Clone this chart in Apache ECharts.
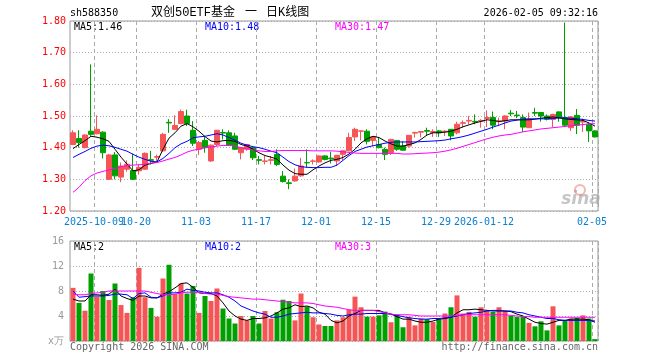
<!DOCTYPE html>
<html><head><meta charset="utf-8">
<script src="https://cdn.jsdelivr.net/npm/echarts@6/dist/echarts.min.js"></script>
<style>html,body{margin:0;padding:0;background:#fff}#c{width:660px;height:360px}</style>
</head><body><div id="c"></div>
<script>
const dates = ['2025-09-25','2025-09-26','2025-09-29','2025-09-30','2025-10-09','2025-10-10','2025-10-13','2025-10-14','2025-10-15','2025-10-16',
'2025-10-17','2025-10-20','2025-10-21','2025-10-22','2025-10-23','2025-10-24','2025-10-27','2025-10-28','2025-10-29','2025-10-30',
'2025-10-31','2025-11-03','2025-11-04','2025-11-05','2025-11-06','2025-11-07','2025-11-10','2025-11-11','2025-11-12','2025-11-13',
'2025-11-14','2025-11-17','2025-11-18','2025-11-19','2025-11-20','2025-11-21','2025-11-24','2025-11-25','2025-11-26','2025-11-27',
'2025-11-28','2025-12-01','2025-12-02','2025-12-03','2025-12-04','2025-12-05','2025-12-08','2025-12-09','2025-12-10','2025-12-11',
'2025-12-12','2025-12-15','2025-12-16','2025-12-17','2025-12-18','2025-12-19','2025-12-22','2025-12-23','2025-12-24','2025-12-25',
'2025-12-26','2025-12-29','2025-12-30','2025-12-31','2026-01-05','2026-01-06','2026-01-07','2026-01-08','2026-01-09','2026-01-12',
'2026-01-13','2026-01-14','2026-01-15','2026-01-16','2026-01-19','2026-01-20','2026-01-21','2026-01-22','2026-01-23','2026-01-26',
'2026-01-27','2026-01-28','2026-01-29','2026-01-30','2026-02-02','2026-02-03','2026-02-04','2026-02-05'];

const opens = [1.410,1.429,1.400,1.452,1.444,1.449,1.300,1.377,1.307,1.332,
1.328,1.327,1.332,1.362,1.370,1.390,1.480,1.458,1.476,1.500,
1.455,1.395,1.423,1.358,1.410,1.448,1.447,1.437,1.384,1.395,
1.400,1.362,1.357,1.360,1.379,1.310,1.289,1.295,1.311,1.353,
1.357,1.355,1.374,1.367,1.358,1.379,1.390,1.434,1.452,1.452,
1.423,1.410,1.395,1.384,1.423,1.405,1.405,1.446,1.449,1.454,
1.448,1.453,1.450,1.458,1.447,1.477,1.484,1.483,1.484,1.492,
1.495,1.482,1.484,1.509,1.503,1.495,1.463,1.511,1.511,1.500,
1.489,1.513,1.495,1.463,1.502,1.481,1.474,1.453];
const closes = [1.447,1.416,1.440,1.442,1.458,1.384,1.377,1.311,1.342,1.348,
1.300,1.338,1.382,1.360,1.372,1.442,1.478,1.470,1.514,1.476,
1.414,1.416,1.400,1.408,1.455,1.446,1.408,1.395,1.400,1.410,
1.368,1.360,1.358,1.362,1.347,1.293,1.287,1.310,1.342,1.352,
1.358,1.374,1.363,1.365,1.376,1.390,1.432,1.458,1.453,1.420,
1.434,1.400,1.379,1.426,1.395,1.392,1.439,1.448,1.451,1.452,
1.451,1.447,1.452,1.437,1.474,1.479,1.486,1.481,1.486,1.495,
1.471,1.484,1.500,1.507,1.501,1.465,1.490,1.509,1.500,1.490,
1.505,1.495,1.471,1.497,1.471,1.483,1.453,1.434];
const lows = [1.408,1.400,1.398,1.437,1.442,1.366,1.298,1.300,1.291,1.324,
1.298,1.315,1.330,1.347,1.358,1.387,1.447,1.455,1.474,1.468,
1.405,1.377,1.384,1.355,1.405,1.426,1.405,1.393,1.363,1.390,
1.361,1.347,1.347,1.347,1.342,1.290,1.269,1.292,1.308,1.337,
1.347,1.353,1.360,1.350,1.342,1.361,1.389,1.421,1.423,1.410,
1.405,1.398,1.361,1.377,1.390,1.390,1.400,1.432,1.432,1.437,
1.434,1.434,1.437,1.423,1.442,1.463,1.474,1.474,1.463,1.465,
1.458,1.468,1.458,1.500,1.493,1.450,1.462,1.500,1.482,1.486,
1.465,1.482,1.468,1.453,1.443,1.450,1.418,1.432];
const highs = [1.455,1.455,1.442,1.663,1.502,1.452,1.380,1.386,1.353,1.360,
1.381,1.348,1.385,1.390,1.378,1.447,1.490,1.502,1.520,1.520,
1.484,1.421,1.437,1.410,1.456,1.458,1.455,1.447,1.401,1.412,
1.405,1.374,1.374,1.374,1.395,1.326,1.300,1.334,1.368,1.395,
1.363,1.376,1.376,1.387,1.377,1.391,1.447,1.463,1.455,1.458,
1.436,1.432,1.400,1.428,1.424,1.421,1.440,1.450,1.452,1.463,
1.458,1.456,1.455,1.459,1.482,1.486,1.500,1.505,1.490,1.518,
1.514,1.495,1.502,1.519,1.516,1.505,1.511,1.526,1.512,1.505,
1.507,1.515,1.795,1.500,1.522,1.492,1.479,1.455];

const ma5 = [1.397,1.410,1.422,1.436,1.433,1.428,1.420,1.395,1.370,1.348,
1.327,1.330,1.345,1.350,1.355,1.395,1.430,1.447,1.468,1.476,
1.466,1.452,1.435,1.421,1.418,1.422,1.423,1.420,1.410,1.405,
1.395,1.384,1.375,1.370,1.364,1.345,1.329,1.318,1.316,1.316,
1.330,1.342,1.352,1.360,1.363,1.369,1.380,1.395,1.415,1.428,
1.436,1.432,1.421,1.412,1.405,1.405,1.410,1.415,1.426,1.440,
1.447,1.447,1.449,1.452,1.458,1.466,1.472,1.478,1.483,1.488,
1.486,1.483,1.485,1.488,1.488,1.488,1.488,1.490,1.493,1.495,
1.497,1.494,1.491,1.489,1.488,1.486,1.478,1.468];
const ma10 = [1.369,1.379,1.388,1.398,1.405,1.408,1.406,1.401,1.395,1.389,
1.379,1.370,1.363,1.357,1.355,1.366,1.382,1.400,1.412,1.420,
1.431,1.434,1.436,1.440,1.444,1.440,1.432,1.424,1.414,1.408,
1.403,1.400,1.395,1.389,1.384,1.370,1.356,1.346,1.340,1.338,
1.337,1.337,1.338,1.338,1.345,1.360,1.375,1.388,1.395,1.402,
1.406,1.410,1.414,1.417,1.418,1.418,1.418,1.418,1.419,1.420,
1.421,1.422,1.424,1.428,1.431,1.435,1.440,1.446,1.452,1.458,
1.465,1.471,1.478,1.484,1.487,1.490,1.491,1.491,1.491,1.491,
1.492,1.494,1.494,1.493,1.491,1.489,1.486,1.484];
const ma30 = [1.259,1.275,1.296,1.311,1.320,1.325,1.330,1.334,1.340,1.343,
1.345,1.346,1.348,1.351,1.353,1.358,1.364,1.369,1.377,1.386,
1.392,1.395,1.400,1.402,1.405,1.407,1.407,1.405,1.400,1.397,
1.393,1.390,1.388,1.388,1.390,1.391,1.391,1.391,1.391,1.391,
1.390,1.390,1.390,1.390,1.389,1.387,1.385,1.383,1.382,1.382,
1.382,1.382,1.382,1.382,1.382,1.380,1.380,1.381,1.382,1.383,
1.384,1.386,1.389,1.393,1.398,1.404,1.410,1.416,1.422,1.428,
1.433,1.437,1.440,1.442,1.446,1.450,1.453,1.456,1.459,1.461,
1.463,1.465,1.467,1.469,1.471,1.473,1.475,1.476];

const volumes = [8.5,6.1,4.85,10.8,7.1,8.0,6.55,9.2,5.75,4.5,
7.0,11.7,7.0,5.3,3.9,10.0,12.2,7.5,9.2,7.6,
8.8,4.5,7.2,6.4,8.4,5.2,3.6,2.8,4.0,3.3,
4.0,2.8,4.8,3.6,4.6,6.6,6.4,3.3,7.6,5.5,
3.8,2.65,2.4,2.4,3.3,3.8,5.0,7.1,5.4,3.9,
3.9,4.1,4.7,3.0,4.2,2.2,3.9,2.5,3.6,3.5,
3.05,3.5,4.4,5.4,7.3,4.4,4.65,3.9,5.4,4.8,
4.65,5.4,4.8,4.0,3.85,3.85,2.9,2.35,3.15,1.7,
5.55,2.5,3.2,3.6,3.7,4.1,3.6,0.3];
const volMa5 = [6.7,6.4,6.4,7.4,7.4,7.3,7.5,8.3,7.2,6.8,
6.5,7.2,7.2,6.9,6.9,7.5,7.9,8.5,9.2,9.3,
8.6,7.7,7.6,7.6,7.2,6.1,4.8,4.0,3.5,3.3,
3.6,3.6,3.7,4.0,4.5,5.1,5.3,5.8,5.5,5.6,
5.3,4.6,4.3,3.3,2.9,3.2,4.0,4.4,4.9,4.9,
4.9,4.9,4.5,4.3,3.9,3.5,3.5,3.2,3.0,3.0,
3.2,3.5,3.6,3.8,4.5,5.0,5.0,5.1,5.0,4.9,
4.8,4.8,4.8,4.7,4.3,4.0,3.5,3.0,2.8,2.7,
3.0,3.3,3.3,3.5,3.5,3.5,3.4,3.0];
const volMa10 = [8.0,7.0,7.1,7.2,7.2,7.2,7.3,7.5,7.5,7.4,
6.8,7.6,7.7,7.0,6.9,7.2,7.7,7.7,7.8,8.3,
8.1,8.0,7.8,7.7,7.7,7.4,7.0,6.4,5.6,5.2,
4.8,4.5,4.3,3.8,3.8,4.0,4.3,4.4,4.5,4.6,
4.5,4.5,4.4,4.3,4.1,4.0,4.2,4.3,4.3,4.4,
4.4,4.4,4.4,4.3,4.1,3.9,3.7,3.6,3.5,3.5,
3.6,3.6,3.7,3.8,4.0,4.2,4.4,4.5,4.6,4.8,
4.9,4.9,4.8,4.8,4.6,4.5,4.2,4.0,3.8,3.6,
3.6,3.4,3.3,3.3,3.3,3.3,3.3,3.2];
const volMa30 = [7.5,7.4,7.4,7.6,7.7,7.8,8.0,8.0,8.0,8.0,
8.0,8.0,8.0,7.8,7.6,7.4,7.4,7.5,7.7,7.8,
7.8,7.8,7.6,7.5,7.5,7.3,7.1,7.0,6.9,6.8,
6.7,6.7,6.6,6.5,6.4,6.3,6.2,6.1,6.1,6.1,
6.0,5.8,5.6,5.5,5.4,5.2,5.0,4.9,4.9,4.9,
4.9,4.7,4.5,4.3,4.2,4.2,4.2,4.1,4.0,4.0,
4.0,4.0,4.0,4.0,4.1,4.2,4.2,4.2,4.2,4.2,
4.2,4.2,4.2,4.1,4.0,3.9,3.9,3.8,3.8,3.8,
3.8,3.8,3.8,3.8,3.8,3.8,3.8,3.8];

const tickDates = ['2025-10-09','2025-10-20','2025-11-03','2025-11-17','2025-12-01','2025-12-15','2025-12-29','2026-01-12','2026-02-05'];
const tickText  = ['2025-10-09','10-20','11-03','11-17','12-01','12-15','12-29','2026-01-12','02-05'];
const priceTicks = {min:1.2, max:1.8, step:0.1};
const volTicks = {min:0, max:16, step:4};

const MONO = '"DejaVu Sans Mono", "Liberation Mono", monospace';
const UP = '#f55555', DOWN = '#00a000';
const isTick = (idx, val) => tickDates.indexOf(val) >= 0;
// first tick label sits on its own axis so that it is not dropped where it touches the next one
const isFirstTick = (idx, val) => val === tickDates[0];
const isOtherTick = (idx, val) => tickDates.indexOf(val) > 0;
const candleData = dates.map((d, i) => [opens[i], closes[i], lows[i], highs[i]]);
const volData = volumes.map((v, i) => ({value: v, itemStyle: {color: closes[i] >= opens[i] ? UP : DOWN}}));

const gridL = 70, gridR = 62;
const labelStyle = (intervalFn) => ({
  show: true, interval: intervalFn, hideOverlap: false,
  color: '#0a7fcf', fontFamily: MONO, fontSize: 10, margin: 6,
  padding: [0, 6, 0, 0], formatter: v => tickText[tickDates.indexOf(v)] || ''
});
const xAx = (gi, labelFn, withSplit) => ({
  type: 'category', gridIndex: gi, data: dates, boundaryGap: true, position: 'bottom', offset: 0,
  axisLine: {show: false}, axisTick: {show: false},
  axisLabel: labelFn ? labelStyle(labelFn) : {show: false},
  splitLine: {show: withSplit, interval: isTick, lineStyle: {color: '#aaa', width: 1, type: [4, 3]}}
});
const line = (name, data, color, xi, yi) => ({
  name, type: 'line', data, xAxisIndex: xi, yAxisIndex: yi, symbol: 'none', silent: true,
  lineStyle: {color, width: 1}, z: 5
});
const txt = (x, y, text, fill, font, align) => ({
  type: 'text', x, y, silent: true,
  style: {text, fill, font: font || ('10px ' + MONO), align: align || 'left', verticalAlign: 'middle'}
});
const TITLE_FONT = '12px "Liberation Mono", "Noto Sans CJK SC"';

const chart = echarts.init(document.getElementById('c'), null, {renderer: 'canvas'});
chart.setOption({
  animation: false,
  backgroundColor: '#fff',
  grid: [
    {left: gridL, right: gridR, top: 21, height: 190, show: true, borderColor: '#999', borderWidth: 1, backgroundColor: 'transparent'},
    {left: gridL, right: gridR, top: 241, height: 100, show: true, borderColor: '#999', borderWidth: 1, backgroundColor: 'transparent'}
  ],
  xAxis: [xAx(0, isOtherTick, true), xAx(1, null, true), xAx(0, isFirstTick, false)],
  yAxis: [
    {type: 'value', gridIndex: 0, min: priceTicks.min, max: priceTicks.max, interval: priceTicks.step,
     axisLine: {show: false}, axisTick: {show: false},
     axisLabel: {color: '#f00', fontFamily: MONO, fontSize: 10, margin: 4, formatter: v => v.toFixed(2)},
     splitLine: {show: true, lineStyle: {color: '#aaa', width: 1, type: [1, 2]}}},
    {type: 'value', gridIndex: 1, min: volTicks.min, max: volTicks.max, interval: volTicks.step,
     axisLine: {show: false}, axisTick: {show: false},
     axisLabel: {color: '#999', fontFamily: MONO, fontSize: 10, margin: 6, formatter: v => v === 0 ? 'x万' : String(v)},
     splitLine: {show: true, lineStyle: {color: '#aaa', width: 1, type: [1, 2]}}}
  ],
  series: [
    {type: 'candlestick', xAxisIndex: 0, yAxisIndex: 0, data: candleData, barWidth: 5,
     itemStyle: {color: UP, color0: DOWN, borderColor: UP, borderColor0: DOWN, borderWidth: 1}, z: 3},
    line('MA5', ma5, '#000', 0, 0),
    line('MA10', ma10, '#0000ff', 0, 0),
    line('MA30', ma30, '#ff00ff', 0, 0),
    {type: 'bar', xAxisIndex: 1, yAxisIndex: 1, data: volData, barWidth: 5, z: 3},
    line('VMA5', volMa5, '#000', 1, 1),
    line('VMA10', volMa10, '#0000ff', 1, 1),
    line('VMA30', volMa30, '#ff00ff', 1, 1)
  ],
  graphic: [
    txt(70, 13, 'sh588350', '#000'),
    txt(151, 13, '双创50ETF基金', '#000', TITLE_FONT),
    txt(245, 13, '一', '#000', TITLE_FONT),
    txt(266, 13, '日K线图', '#000', TITLE_FONT),
    txt(598, 13, '2026-02-05 09:32:16', '#000', null, 'right'),
    txt(74, 27, 'MA5:1.46', '#000'),
    txt(205, 27, 'MA10:1.48', '#0000ff'),
    txt(335, 27, 'MA30:1.47', '#ff00ff'),
    txt(74, 247, 'MA5:2', '#000'),
    txt(205, 247, 'MA10:2', '#0000ff'),
    txt(335, 247, 'MA30:3', '#ff00ff'),
    txt(70, 347, 'Copyright 2026 SINA.COM', '#666'),
    txt(598, 347, 'http://finance.sina.com.cn', '#666', null, 'right'),
    {type: 'circle', shape: {cx: 580, cy: 190, r: 5}, silent: true, z: 1,
     style: {fill: 'none', stroke: 'rgba(235,120,120,0.55)', lineWidth: 2}},
    txt(581, 200, 'sina', 'rgba(150,150,150,0.55)', 'italic bold 17px "DejaVu Sans"', 'center')
  ]
});
</script>
</body></html>
